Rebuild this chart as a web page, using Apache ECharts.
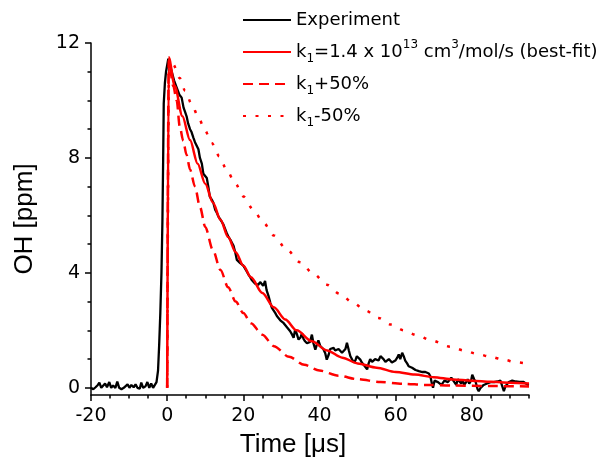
<!DOCTYPE html>
<html>
<head>
<meta charset="utf-8">
<script src="https://cdn.jsdelivr.net/npm/echarts@6/dist/echarts.min.js"></script>
<style>
  html, body { margin: 0; padding: 0; background: #fff; }
  #chart { width: 605px; height: 460px; }
</style>
</head>
<body>
<div id="chart"></div>
<script>
// Series names and their legend captions (rich text for sub/superscripts)
const seriesNames = ['Experiment', 'k1 best-fit', 'k1 +50%', 'k1 -50%'];
const legendLabels = [
  '{n|Experiment}',
  '{n|k}{sub|1}{n|=1.4 x 10}{sup|13}{n| cm}{sup|3}{n|/mol/s (best-fit)}',
  '{n|k}{sub|1}{n|+50%}',
  '{n|k}{sub|1}{n|-50%}'
];

// Axis ticks
const xTicks = [-20, 0, 20, 40, 60, 80];
const xMinorTicks = [-15, -10, -5, 5, 10, 15, 25, 30, 35, 45, 50, 55, 65, 70, 75, 85, 90, 95];
const yTicks = [0, 4, 8, 12];
const yMinorTicks = [1, 2, 3, 5, 6, 7, 9, 10, 11];

// Measured OH trace: [time (µs), OH (ppm)]
const expData = [
  [-20, 0.0], [-19.4, -0.05], [-18.8, 0.02], [-18.2, 0.1], [-17.8, 0.18], [-17.3, 0.0],
  [-16.8, 0.05], [-16.3, 0.15], [-15.8, 0.02], [-15.2, 0.2], [-14.7, 0.0], [-14.2, 0.08],
  [-13.6, 0.0], [-13.1, 0.22], [-12.6, 0.0], [-12.0, -0.05], [-11.4, 0.0], [-10.9, 0.0],
  [-10.4, 0.12], [-9.9, 0.0], [-9.4, 0.1], [-8.8, 0.02], [-8.3, 0.12], [-7.8, 0.0],
  [-7.2, -0.03], [-6.8, 0.18], [-6.3, 0.0], [-5.7, 0.05], [-5.2, 0.2], [-4.7, 0.0],
  [-4.2, 0.15], [-3.7, 0.0], [-3.2, 0.05],
  [-2.8, 0.2], [-2.4, 0.6], [-2.1, 1.5], [-1.8, 2.6], [-1.5, 4.0], [-1.25, 5.8],
  [-1.05, 8.0], [-0.9, 9.9], [-0.6, 10.6], [-0.3, 11.0], [0.3, 11.45],
  [0.8, 11.2], [1.2, 11.0], [1.8, 10.7], [2.5, 10.45], [3.2, 10.2], [3.8, 10.1],
  [4.3, 9.75], [4.7, 9.6], [5.1, 9.45], [5.5, 9.2], [6.0, 9.0], [6.4, 8.9],
  [6.9, 8.7], [7.3, 8.55], [7.7, 8.6], [8.2, 8.3], [8.6, 8.0], [9.1, 7.8],
  [9.5, 7.45], [10.0, 7.4], [10.4, 7.3], [10.8, 7.0], [11.2, 6.65], [11.7, 6.55],
  [12.1, 6.45], [12.6, 6.2], [13.0, 6.1], [13.5, 5.95], [14.0, 5.85], [14.7, 5.7],
  [15.0, 5.75], [15.6, 5.4], [16.1, 5.25], [16.6, 5.15], [17.0, 5.05], [17.4, 4.95],
  [17.9, 4.7], [18.3, 4.45], [18.7, 4.42], [19.1, 4.35], [19.6, 4.3], [20.0, 4.25],
  [20.4, 4.2], [20.9, 4.05], [21.3, 3.95], [21.8, 3.85], [22.2, 3.75], [22.6, 3.72],
  [23.1, 3.62], [23.5, 3.6], [23.9, 3.58], [24.4, 3.68], [24.8, 3.72], [25.2, 3.55],
  [25.7, 3.72], [26.1, 3.4], [26.6, 3.2], [27.1, 2.95], [27.5, 2.78], [28.0, 2.72],
  [28.4, 2.6], [28.8, 2.5], [29.3, 2.45], [29.7, 2.35], [30.2, 2.3], [30.6, 2.25],
  [31.0, 2.2], [31.5, 2.1], [31.9, 2.05], [32.3, 1.97], [32.8, 1.85], [33.2, 1.74],
  [33.6, 2.03], [34.1, 1.85], [34.5, 1.68], [35.0, 1.75], [35.4, 1.9], [35.8, 1.7],
  [36.2, 1.62], [36.7, 1.55], [37.1, 1.5], [37.5, 1.6], [38.0, 1.85], [38.4, 1.55],
  [38.9, 1.33], [39.3, 1.5], [39.7, 1.65], [40.2, 1.45], [40.6, 1.42], [41.0, 1.35],
  [41.5, 1.2], [41.9, 0.98], [42.4, 1.15], [42.8, 1.35], [43.2, 1.4], [43.7, 1.39],
  [44.1, 1.3], [44.6, 1.25], [45.0, 1.35], [45.5, 1.3], [45.9, 1.22], [46.4, 1.28],
  [46.8, 1.35], [47.2, 1.57], [47.7, 1.3], [48.1, 1.1], [48.5, 1.05], [49.0, 0.88],
  [49.4, 0.95], [49.8, 1.1], [50.3, 1.05], [50.7, 0.98], [51.1, 0.88], [51.6, 0.8],
  [52.0, 0.75], [52.5, 0.64], [52.9, 0.85], [53.3, 1.0], [53.8, 0.9], [54.2, 0.85],
  [54.6, 1.0], [55.1, 1.05], [55.5, 0.95], [56.0, 1.1], [56.4, 1.16], [56.8, 1.0],
  [57.3, 0.9], [57.7, 0.85], [58.2, 1.0], [58.6, 0.95], [59.0, 0.88], [59.5, 0.87],
  [59.9, 0.95], [60.4, 1.05], [60.8, 1.16], [61.2, 1.0], [61.7, 1.22], [62.1, 1.1],
  [62.5, 0.95], [63.0, 0.85], [63.4, 0.75], [63.8, 0.72], [64.3, 0.7], [64.7, 0.68],
  [65.2, 0.62], [65.6, 0.65], [66.1, 0.58], [66.5, 0.6], [67.0, 0.55], [67.4, 0.5],
  [67.8, 0.55], [68.3, 0.6], [68.7, 0.5], [69.1, 0.4], [69.5, 0.15], [69.8, 0.0],
  [70.2, 0.25], [70.6, 0.3], [71.1, 0.2], [71.5, 0.25], [72.0, 0.1], [72.4, 0.05],
  [72.8, 0.25], [73.2, 0.3], [73.7, 0.2], [74.1, 0.15], [74.6, 0.35], [75.0, 0.4],
  [75.4, 0.2], [75.9, 0.1], [76.3, 0.3], [76.7, 0.25], [77.2, 0.15], [77.6, 0.25],
  [78.0, 0.1], [78.5, 0.2], [78.9, 0.3], [79.3, 0.15], [79.8, 0.25], [80.1, 0.46],
  [80.6, 0.3], [81.0, 0.2], [81.5, -0.05], [81.8, -0.12], [82.3, 0.0], [82.7, 0.05],
  [83.1, 0.1], [83.6, 0.12], [84.0, 0.15], [84.5, 0.1], [84.9, 0.2], [85.4, 0.15],
  [85.8, 0.2], [86.2, 0.25], [86.7, 0.22], [87.1, 0.2], [87.5, 0.25], [88.0, 0.29],
  [88.4, -0.12], [88.8, 0.05], [89.3, 0.1], [89.7, 0.2], [90.2, 0.22], [90.6, 0.25],
  [91.0, 0.2], [91.5, 0.22], [92.0, 0.21], [92.5, 0.21], [93.0, 0.21], [93.5, 0.21],
  [94.0, 0.18], [94.6, 0.11], [95.0, 0.1]
];

// Model: best-fit k1
const fitData = [
  [0, 0], [0.4, 11.5], [2, 10.5], [4, 9.45], [6, 8.62], [8, 7.8], [10, 7.1], [12, 6.45],
  [14, 5.85], [16, 5.25], [18, 4.72], [20, 4.25], [22, 3.85], [25, 3.3], [28, 2.8],
  [31, 2.38], [34, 2.0], [38, 1.62], [42, 1.3], [46, 1.05], [50, 0.85], [55, 0.7],
  [60, 0.55], [65, 0.46], [70, 0.37], [75, 0.29], [80, 0.25], [85, 0.21], [90, 0.18], [95, 0.15]
];

// Model: k1 + 50%
const fastData = [
  [0, 0], [0.4, 11.4], [1.6, 10.5], [2.5, 10.0], [3.3, 9.1], [4.2, 8.6], [5.1, 8.1],
  [6, 7.6], [7.3, 7.0], [8.6, 6.3], [10, 5.6], [12, 4.8], [14, 4.1], [16, 3.5], [18, 3.0],
  [20, 2.6], [22, 2.25], [25, 1.85], [28, 1.45], [32, 1.08], [36, 0.8], [40, 0.6],
  [45, 0.42], [50, 0.3], [56, 0.2], [62, 0.14], [68, 0.1], [75, 0.08], [85, 0.06], [95, 0.05]
];

// Model: k1 - 50%
const slowData = [
  [0, 0], [0.5, 11.45], [1.6, 11.25], [3.3, 10.78], [4.7, 10.34], [6.4, 9.88], [8.2, 9.42],
  [9.9, 8.96], [11.7, 8.52], [13.7, 8.06], [15.6, 7.59], [17.8, 7.13], [20, 6.66],
  [22.6, 6.2], [25.3, 5.74], [28, 5.3], [31.4, 4.81], [34.9, 4.37], [38.4, 3.97],
  [41.9, 3.59], [45.3, 3.27], [48.8, 2.96], [52.1, 2.69], [55.5, 2.43], [58.8, 2.2],
  [62.1, 2.0], [65.6, 1.83], [69.1, 1.66], [74.4, 1.43], [77.9, 1.3], [81.4, 1.18],
  [84.9, 1.08], [88.3, 0.98], [91.6, 0.89], [95, 0.83]
];

const tickFont = 'DejaVu Sans';
const titleFont = 'Liberation Sans';
const red = '#ff0000';

const chart = echarts.init(document.getElementById('chart'), null, { renderer: 'canvas' });

const axisLineStyle = { color: '#000', width: 1.5 };

chart.setOption({
  animation: false,
  backgroundColor: '#fff',
  grid: { left: 91, right: 76, top: 43, bottom: 65, containLabel: false, outerBoundsMode: 'none' },
  legend: {
    orient: 'vertical',
    left: 237,
    top: 11,
    padding: [0, 5, 0, 5],
    itemWidth: 48,
    itemHeight: 14,
    itemGap: 10,
    selectedMode: false,
    data: seriesNames,
    itemStyle: { opacity: 0 },
    formatter: name => legendLabels[seriesNames.indexOf(name)],
    textStyle: {
      color: '#000',
      fontFamily: tickFont,
      fontSize: 18,
      rich: {
        n: { fontFamily: tickFont, fontSize: 18, lineHeight: 26, verticalAlign: 'middle', color: '#000' },
        sub: { fontFamily: tickFont, fontSize: 12, lineHeight: 10, verticalAlign: 'bottom', color: '#000' },
        sup: { fontFamily: tickFont, fontSize: 12, lineHeight: 10, verticalAlign: 'top', color: '#000' }
      }
    }
  },
  xAxis: [
    {
      type: 'value', min: -20, max: 95, position: 'bottom',
      name: 'Time [μs]', nameLocation: 'middle', nameGap: 37,
      nameTextStyle: { fontFamily: titleFont, fontSize: 26, color: '#000', padding: [0, 34, 0, 0] },
      axisLine: { onZero: false, lineStyle: axisLineStyle },
      axisTick: { customValues: xTicks, length: 6, lineStyle: axisLineStyle },
      axisLabel: { customValues: xTicks, margin: 12, fontFamily: tickFont, fontSize: 19, color: '#000' },
      splitLine: { show: false }
    },
    {
      type: 'value', min: -20, max: 95, position: 'bottom',
      axisLine: { show: false, onZero: false },
      axisTick: { customValues: xMinorTicks, length: 3.5, lineStyle: axisLineStyle },
      axisLabel: { show: false },
      splitLine: { show: false }
    }
  ],
  yAxis: [
    {
      type: 'value', min: -0.25, max: 12, position: 'left',
      name: 'OH [ppm]', nameLocation: 'middle', nameGap: 53,
      nameTextStyle: { fontFamily: titleFont, fontSize: 26, color: '#000' },
      axisLine: { onZero: false, lineStyle: axisLineStyle },
      axisTick: { customValues: yTicks, length: 6, lineStyle: axisLineStyle },
      axisLabel: { customValues: yTicks, margin: 11, fontFamily: tickFont, fontSize: 19, color: '#000' },
      splitLine: { show: false }
    },
    {
      type: 'value', min: -0.25, max: 12, position: 'left',
      axisLine: { show: false, onZero: false },
      axisTick: { customValues: yMinorTicks, length: 3.5, lineStyle: axisLineStyle },
      axisLabel: { show: false },
      splitLine: { show: false }
    }
  ],
  series: [
    {
      name: seriesNames[0], type: 'line', data: expData, symbol: 'none',
      xAxisIndex: 0, yAxisIndex: 0, z: 2,
      itemStyle: { color: '#000' },
      lineStyle: { color: '#000', width: 2.3 }
    },
    {
      name: seriesNames[1], type: 'line', data: fitData, symbol: 'none',
      smooth: 0.3, smoothMonotone: 'x', z: 3,
      itemStyle: { color: red },
      lineStyle: { color: red, width: 2.5 }
    },
    {
      name: seriesNames[2], type: 'line', data: fastData, symbol: 'none',
      smooth: 0.3, smoothMonotone: 'x', z: 3,
      itemStyle: { color: red },
      lineStyle: { color: red, width: 2.5, type: [10, 6] }
    },
    {
      name: seriesNames[3], type: 'line', data: slowData, symbol: 'none',
      smooth: 0.3, smoothMonotone: 'x', z: 3,
      itemStyle: { color: red },
      lineStyle: { color: red, width: 2.5, type: [3, 9.5] }
    }
  ]
});
</script>
</body>
</html>
